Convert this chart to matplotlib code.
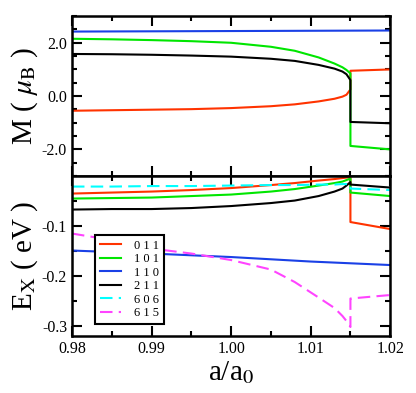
import matplotlib
matplotlib.use("Agg")
import matplotlib.pyplot as plt
from matplotlib.ticker import MultipleLocator, FormatStrFormatter

plt.rcParams['font.family'] = ['Liberation Serif', 'DejaVu Serif']
plt.rcParams['mathtext.fontset'] = 'stix'

# lattice ratio grid before the jump at 1.015, and after it
x_pre = [0.98, 0.985, 0.99, 0.995, 1.0, 1.005, 1.008, 1.011, 1.013, 1.014, 1.0145, 1.015]
x_post = [1.015, 1.02]
x_blue = [0.98, 0.99, 1.0, 1.01, 1.02]

labels = ['0 1 1', '1 0 1', '1 1 0', '2 1 1', '6 0 6', '6 1 5']

# magnetic moment M (mu_B)
m_011 = [-0.55, -0.53, -0.51, -0.49, -0.45, -0.38, -0.31, -0.20, -0.10, -0.02, 0.05, 0.25] + [0.95, 1.0]
m_101 = [2.15, 2.13, 2.10, 2.06, 2.00, 1.85, 1.70, 1.45, 1.22, 1.08, 0.98, 0.85] + [-1.87, -2.0]
m_110 = [2.42, 2.43, 2.44, 2.45, 2.46]
m_211 = [1.58, 1.57, 1.55, 1.52, 1.48, 1.40, 1.32, 1.17, 1.03, 0.92, 0.82, 0.60] + [-0.97, -1.02]

# exchange energy E_X (eV)
e_011 = [-0.035, -0.033, -0.031, -0.028, -0.024, -0.018, -0.014, -0.009, -0.006, -0.004, -0.003, -0.002] + [-0.092, -0.106]
e_101 = [-0.045, -0.044, -0.043, -0.040, -0.037, -0.031, -0.026, -0.019, -0.014, -0.011, -0.008, -0.005] + [-0.033, -0.040]
e_110 = [-0.149, -0.155, -0.162, -0.171, -0.178]
e_211 = [-0.067, -0.066, -0.066, -0.064, -0.060, -0.054, -0.049, -0.040, -0.031, -0.025, -0.019, -0.012] + [-0.017, -0.023]
e_606 = [-0.021, -0.021, -0.020, -0.020, -0.019, -0.018, -0.018, -0.017, -0.017, -0.016, -0.016, -0.016] + [-0.025, -0.028]
e_615 = [-0.115, -0.128, -0.145, -0.155, -0.168, -0.187, -0.212, -0.243, -0.264, -0.280, -0.290, -0.302] + [-0.245, -0.238]

colors = ['#ff3300', '#00e600', '#1a40e6', '#000000', '#00ffff', '#ff44ff']
dash = (0, (6, 3))

fig = plt.figure(figsize=(4.16, 3.93), dpi=100)
ax1 = fig.add_axes([0.173, 0.552, 0.765, 0.407])
ax2 = fig.add_axes([0.173, 0.145, 0.765, 0.407])

x_full = x_pre + x_post
lw = 1.5
ax1.plot(x_full, m_011, color=colors[0], lw=lw)
ax1.plot(x_full, m_101, color=colors[1], lw=lw)
ax1.plot(x_blue, m_110, color=colors[2], lw=lw)
ax1.plot(x_full, m_211, color=colors[3], lw=lw)

ax2.plot(x_full, e_011, color=colors[0], lw=lw, label=labels[0])
ax2.plot(x_full, e_101, color=colors[1], lw=lw, label=labels[1])
ax2.plot(x_blue, e_110, color=colors[2], lw=lw, label=labels[2])
ax2.plot(x_full, e_211, color=colors[3], lw=lw, label=labels[3])
ax2.plot(x_full, e_606, color=colors[4], lw=lw, ls=dash, label=labels[4])
ax2.plot(x_full, e_615, color=colors[5], lw=lw, ls=dash, label=labels[5])

for ax in (ax1, ax2):
    ax.set_xlim(0.98, 1.02)
    ax.xaxis.set_major_locator(MultipleLocator(0.01))
    ax.xaxis.set_minor_locator(MultipleLocator(0.005))
    ax.tick_params(which='both', direction='in', top=True, right=True, width=1.5, labelsize=11.5)
    ax.tick_params(which='major', length=7)
    ax.tick_params(which='minor', length=3.5)
    for s in ax.spines.values():
        s.set_linewidth(1.8)
    ax.yaxis.set_label_coords(-0.1, 0.5)

ax1.set_ylim(-3, 3)
ax1.yaxis.set_major_locator(MultipleLocator(2))
ax1.yaxis.set_minor_locator(MultipleLocator(0.5))
ax1.yaxis.set_major_formatter(FormatStrFormatter('%.1f'))
ax1.tick_params(labelbottom=False)
ax1.set_ylabel(r'M ( $\mu_{\rm B}$ )', fontsize=21)

ax2.set_ylim(-0.32, 0.0)
ax2.yaxis.set_major_locator(MultipleLocator(0.1))
ax2.yaxis.set_minor_locator(MultipleLocator(0.05))
ax2.yaxis.set_major_formatter(FormatStrFormatter('%.1f'))
ax2.set_yticks([-0.3, -0.2, -0.1])
ax2.xaxis.set_major_formatter(FormatStrFormatter('%.2f'))
ax2.set_ylabel(r'E$_{\rm X}$ ( eV )', fontsize=21)
ax2.set_xlabel(r'a/a$_0$', fontsize=21, labelpad=2)

leg = ax2.legend(loc='lower left', bbox_to_anchor=(0.072, 0.075), borderaxespad=0,
                 fontsize=9, handlelength=1.7, handletextpad=1.0, labelspacing=0.12,
                 fancybox=False, framealpha=1, edgecolor='black', borderpad=0.4)
leg.get_frame().set_linewidth(1.5)

fig.savefig('out.png', dpi=100)
